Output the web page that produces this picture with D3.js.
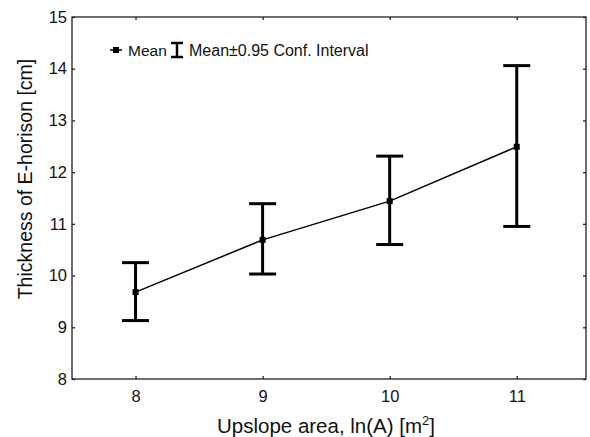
<!DOCTYPE html>
<html>
<head>
<meta charset="utf-8">
<script src="https://cdn.jsdelivr.net/npm/d3@7"></script>
<style>
  body { margin: 0; background: #fff; }
  text { font-family: "Liberation Sans", Arial, sans-serif; fill: #111; }
</style>
</head>
<body>
<div id="wrapper"></div>
<script>
// data
const areas = [8, 9, 10, 11]
const means = [9.68, 10.69, 11.44, 12.49]
const upper = [10.25, 11.39, 12.31, 14.06]
const lower = [9.13, 10.03, 10.60, 10.95]
const xTicks = [8, 9, 10, 11]
const yTicks = [8, 9, 10, 11, 12, 13, 14, 15]

function drawChart() {
  const dataset = areas.map((a, i) => ({ a, mean: means[i], hi: upper[i], lo: lower[i] }))

  let dimensions = {
    width: 590,
    height: 437,
    margin: { top: 17, right: 4, bottom: 58, left: 72 },
  }
  dimensions.boundedWidth = dimensions.width - dimensions.margin.left - dimensions.margin.right
  dimensions.boundedHeight = dimensions.height - dimensions.margin.top - dimensions.margin.bottom

  const wrapper = d3.select("#wrapper")
    .append("svg")
    .attr("width", dimensions.width)
    .attr("height", dimensions.height)

  const bounds = wrapper.append("g")
    .attr("transform", `translate(${dimensions.margin.left},${dimensions.margin.top})`)

  const xScale = d3.scaleLinear()
    .domain([7.5, 11.545])
    .range([0, dimensions.boundedWidth])

  const yScale = d3.scaleLinear()
    .domain([8, 15])
    .range([dimensions.boundedHeight, 0])

  // frame
  bounds.append("rect")
    .attr("width", dimensions.boundedWidth)
    .attr("height", dimensions.boundedHeight)
    .attr("fill", "none")
    .attr("stroke", "#222")
    .attr("stroke-width", 1.3)

  // axes with inward ticks
  const fmt = d3.format("d")
  const xAxis = bounds.append("g")
    .attr("transform", `translate(0,${dimensions.boundedHeight})`)
    .call(d3.axisBottom(xScale).tickValues(xTicks).tickSize(-3).tickPadding(11).tickFormat(fmt))
  const xTop = bounds.append("g")
    .call(d3.axisTop(xScale).tickValues(xTicks).tickSize(-3).tickFormat(""))
  const yAxis = bounds.append("g")
    .call(d3.axisLeft(yScale).tickValues(yTicks).tickSize(-3).tickPadding(5).tickFormat(fmt))
  const yRight = bounds.append("g")
    .attr("transform", `translate(${dimensions.boundedWidth},0)`)
    .call(d3.axisRight(yScale).tickValues(yTicks).tickSize(-3).tickFormat(""))

  ;[xAxis, xTop, yAxis, yRight].forEach(g => {
    g.select(".domain").remove()
    g.selectAll(".tick line").attr("stroke", "#222").attr("stroke-width", 1.3)
    g.selectAll("text").style("font-size", "16.5px").attr("fill", "#111")
  })

  // error bars
  const capHalf = 13.5
  const bars = bounds.append("g")
    .selectAll("g")
    .data(dataset)
    .join("g")
    .attr("stroke", "#000")
    .attr("stroke-width", 3)

  bars.append("line")
    .attr("x1", d => xScale(d.a))
    .attr("x2", d => xScale(d.a))
    .attr("y1", d => yScale(d.hi))
    .attr("y2", d => yScale(d.lo))
  bars.append("line")
    .attr("x1", d => xScale(d.a) - capHalf)
    .attr("x2", d => xScale(d.a) + capHalf)
    .attr("y1", d => yScale(d.hi))
    .attr("y2", d => yScale(d.hi))
  bars.append("line")
    .attr("x1", d => xScale(d.a) - capHalf)
    .attr("x2", d => xScale(d.a) + capHalf)
    .attr("y1", d => yScale(d.lo))
    .attr("y2", d => yScale(d.lo))

  // mean line
  const lineGenerator = d3.line()
    .x(d => xScale(d.a))
    .y(d => yScale(d.mean))

  bounds.append("path")
    .attr("d", lineGenerator(dataset))
    .attr("fill", "none")
    .attr("stroke", "#000")
    .attr("stroke-width", 1.5)

  bounds.append("g")
    .selectAll("rect")
    .data(dataset)
    .join("rect")
    .attr("x", d => xScale(d.a) - 3)
    .attr("y", d => yScale(d.mean) - 3)
    .attr("width", 6)
    .attr("height", 6)
    .attr("fill", "#000")

  // legend
  const legend = wrapper.append("g")
    .attr("transform", "translate(110,50)")
  legend.append("line")
    .attr("x1", 0).attr("x2", 12).attr("y1", 0).attr("y2", 0)
    .attr("stroke", "#000").attr("stroke-width", 1.5)
  legend.append("rect")
    .attr("x", 3).attr("y", -3).attr("width", 6).attr("height", 6)
    .attr("fill", "#000")
  legend.append("text")
    .attr("x", 18).attr("y", 5.5)
    .style("font-size", "15.5px")
    .text("Mean")
  const icon = legend.append("g")
    .attr("stroke", "#000").attr("stroke-width", 2.5)
  icon.append("line").attr("x1", 67).attr("x2", 67).attr("y1", -7).attr("y2", 7)
  icon.append("line").attr("x1", 61).attr("x2", 73).attr("y1", -7).attr("y2", -7)
  icon.append("line").attr("x1", 61).attr("x2", 73).attr("y1", 7).attr("y2", 7)
  legend.append("text")
    .attr("x", 79).attr("y", 5.5)
    .style("font-size", "16px")
    .text("Mean±0.95 Conf. Interval")

  // axis titles
  const xTitle = wrapper.append("text")
    .attr("x", 326)
    .attr("y", 433)
    .attr("text-anchor", "middle")
    .style("font-size", "20.5px")
  xTitle.append("tspan").text("Upslope area, ln(A) [m")
  xTitle.append("tspan").attr("dy", -8).style("font-size", "13px").text("2")
  xTitle.append("tspan").attr("dy", 8).text("]")

  wrapper.append("text")
    .attr("transform", "translate(32,179) rotate(-90)")
    .attr("text-anchor", "middle")
    .style("font-size", "19.5px")
    .text("Thickness of E-horison [cm]")
}
drawChart()
</script>
</body>
</html>
